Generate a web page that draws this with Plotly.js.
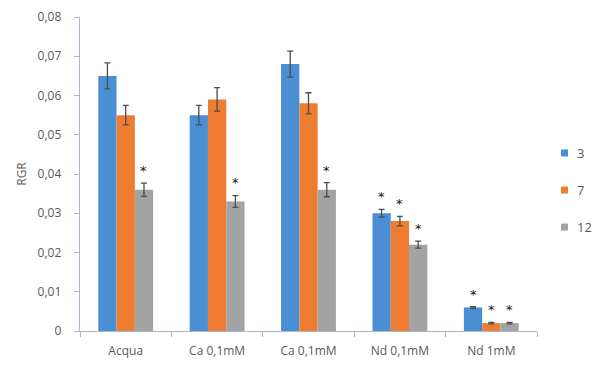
<!DOCTYPE html>
<html><head><meta charset="utf-8">
<script src="https://cdn.plot.ly/plotly-3.0.1.min.js"></script>
<style>body{margin:0;background:#fff}#c{width:596px;height:365px}</style>
</head><body><div id="c"></div>
<script>
var categories = ['Acqua', 'Ca 0,1mM', 'Ca 0,1mM', 'Nd 0,1mM', 'Nd 1mM'];
var seriesNames = ['3', '7', '12'];
var vals3  = [0.065, 0.055, 0.068, 0.030, 0.006];
var vals7  = [0.055, 0.059, 0.058, 0.028, 0.002];
var vals12 = [0.036, 0.033, 0.036, 0.022, 0.002];
var err3  = [0.0033, 0.0025, 0.0033, 0.0010, 0.0002];
var err7  = [0.0025, 0.0030, 0.0027, 0.0012, 0.0002];
var err12 = [0.0017, 0.0015, 0.0018, 0.0009, 0.0002];
var sig3  = [0, 0, 0, 1, 1];
var sig7  = [0, 0, 0, 1, 1];
var sig12 = [1, 1, 1, 1, 1];
var yTickVals = [0, 0.01, 0.02, 0.03, 0.04, 0.05, 0.06, 0.07, 0.08];
var yTickText = ['0', '0,01', '0,02', '0,03', '0,04', '0,05', '0,06', '0,07', '0,08'];

var colors = ['#4a8fd3', '#ee7d32', '#a3a3a3'];
var allVals = [vals3, vals7, vals12];
var allErr = [err3, err7, err12];
var allSig = [sig3, sig7, sig12];
var xs = categories.map(function (_, i) { return i; });

var traces = seriesNames.map(function (n, k) {
  return {
    type: 'bar', name: n, x: xs, y: allVals[k], showlegend: false,
    marker: {color: colors[k]},
    error_y: {type: 'data', array: allErr[k], visible: true, color: '#4d4d4d', thickness: 1.3, width: 3}
  };
});

var offsets = [-0.2, 0, 0.2];
var annotations = [];
for (var k = 0; k < 3; k++) {
  for (var i = 0; i < xs.length; i++) {
    if (allSig[k][i]) {
      annotations.push({
        x: xs[i] + offsets[k], y: allVals[k][i] + allErr[k][i] + 0.0008,
        xref: 'x', yref: 'y', text: '*', showarrow: false, yanchor: 'bottom',
        font: {size: 13, color: '#111111', family: 'DejaVu Sans'}
      });
    }
  }
}

// legend drawn as key squares + labels
var legendY = [0.567, 0.449, 0.331];
var shapes = [];
seriesNames.forEach(function (n, k) {
  shapes.push({
    type: 'rect', xref: 'paper', yref: 'paper', xsizemode: 'pixel', ysizemode: 'pixel',
    xanchor: 1.0602, yanchor: legendY[k], x0: -3.5, x1: 3.5, y0: -3.5, y1: 3.5,
    fillcolor: colors[k], line: {width: 0}
  });
  annotations.push({
    x: 1.083, y: legendY[k], xref: 'paper', yref: 'paper', xanchor: 'left', yanchor: 'middle',
    text: n, showarrow: false, font: {size: 13, color: '#595959'}
  });
});

var layout = {
  width: 596, height: 365,
  margin: {l: 80, r: 59, t: 17, b: 34, autoexpand: false},
  paper_bgcolor: '#fff', plot_bgcolor: '#fff',
  font: {family: 'Open Sans, sans-serif', size: 12, color: '#595959'},
  barmode: 'group', bargap: 0.4, bargroupgap: 0,
  showlegend: false,
  xaxis: {
    range: [-0.5, 4.5], tickvals: xs, ticktext: categories, ticks: '', showgrid: false, zeroline: false,
    showline: true, linecolor: '#a8b8cc', linewidth: 1.3, fixedrange: true, ticklabelstandoff: 8,
    minor: {tickvals: [-0.5, 0.5, 1.5, 2.5, 3.5, 4.5], ticks: 'outside', ticklen: 5, tickcolor: '#a8b8cc', showgrid: false}
  },
  yaxis: {
    range: [0, 0.08], tickvals: yTickVals, ticktext: yTickText, ticks: 'outside', ticklen: 5,
    tickcolor: '#a8b8cc', showgrid: false, zeroline: false, showline: true, linecolor: '#a8b8cc', linewidth: 1.3,
    ticklabelstandoff: 10,
    title: {text: 'RGR', standoff: 8, font: {size: 12, color: '#595959'}}
  },
  shapes: shapes,
  annotations: annotations
};
Plotly.newPlot('c', traces, layout, {displayModeBar: false, staticPlot: true});
</script></body></html>
